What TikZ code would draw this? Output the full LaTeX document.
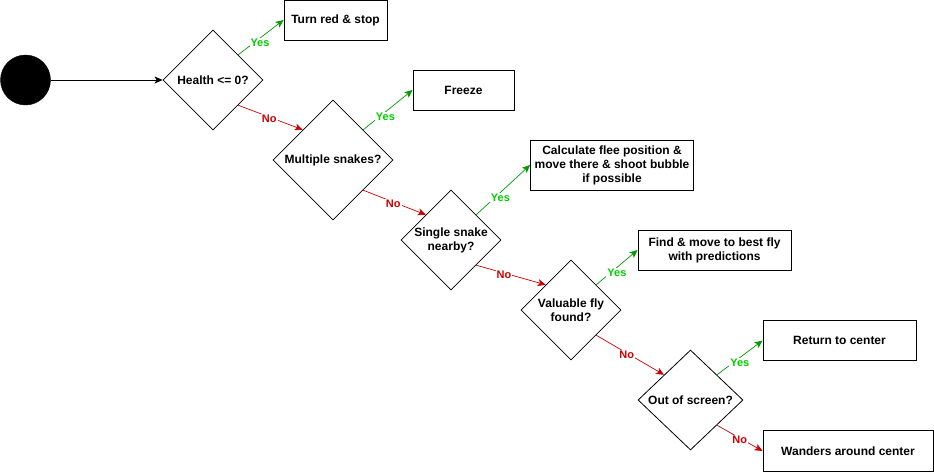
\documentclass[tikz,border=0pt]{standalone}
\usepackage{fontspec}
\setmainfont{Liberation Sans}
\usetikzlibrary{arrows.meta,shapes.geometric}
\definecolor{yesline}{RGB}{0, 153, 0}
\definecolor{yestext}{RGB}{0, 204, 0}
\definecolor{noline}{RGB}{204, 0, 0}
\definecolor{notext}{RGB}{204, 0, 0}

\tikzset{
  startdot/.style={circle, fill=black, draw=black, minimum size=50pt, inner sep=0pt},
  decision/.style={diamond, draw=black, line width=0.8pt, inner sep=0pt,
    align=center, font=\fontsize{12}{14}\selectfont\bfseries},
  action/.style={rectangle, draw=black, line width=0.8pt, inner sep=2pt,
    align=center, minimum height=40pt, font=\fontsize{12}{14}\selectfont\bfseries},
  flow/.style={-{Stealth[length=8pt,width=7pt,inset=2pt]}, line width=0.7pt},
  yesedge/.style={flow, yesline},
  noedge/.style={flow, noline},
  yeslabel/.style={fill=white, inner sep=1pt, text=yestext, yshift=-5pt,
    font=\fontsize{11}{12}\selectfont\bfseries},
  nolabel/.style={fill=white, inner sep=1pt, text=notext, yshift=-2pt,
    font=\fontsize{11}{12}\selectfont\bfseries},
}

\begin{document}
\begin{tikzpicture}[x=1pt, y=-1pt]
\useasboundingbox (0,0) rectangle (934,472);

% =====================================================================
% Decision chain, running down to the right
% =====================================================================
\node[startdot] (start) at (25.5,80) {};

\node[decision, minimum width=100pt, minimum height=100pt] (health) at (213,80) {Health {\char`<}= 0?};
\node[decision, minimum width=120pt, minimum height=120pt] (multi) at (333,160) {Multiple snakes?};
\node[decision, minimum width=100pt, minimum height=100pt] (single) at (451,240) {Single snake\\nearby?};
\node[decision, minimum width=100pt, minimum height=100pt] (valfly) at (571,310) {Valuable fly\\found?};
\node[decision, minimum width=105pt, minimum height=100pt] (offscr) at (690.5,400) {Out of screen?};

% =====================================================================
% Actions
% =====================================================================
\node[action, minimum width=103pt] (turnred) at (335.5,20) {Turn red \& stop};
\node[action, minimum width=101pt] (freeze) at (463.5,90) {Freeze};
\node[action, minimum width=163pt, minimum height=50pt] (flee) at (612,165)
  {Calculate flee position \&\\move there \& shoot bubble\\if possible};
\node[action, minimum width=153pt] (bestfly) at (714.5,250)
  {Find \& move to best fly\\with predictions};
\node[action, minimum width=153pt] (center) at (839.5,340.5) {Return to center};
\node[action, minimum width=170pt, minimum height=41pt] (wander) at (848,451) {Wanders around center};

% --- connectors ---
\draw[flow] (start) -- (health.west);

\draw[yesedge] (health.north east) -- node[yeslabel, pos=0.48] {Yes} (turnred.west);
\draw[noedge] (health.south east) -- node[nolabel, pos=0.48] {No} (multi.north west);

\draw[yesedge] (multi.north east) -- node[yeslabel, pos=0.45] {Yes} (freeze.west);
\draw[noedge] (multi.south east) -- node[nolabel, pos=0.48] {No} (single.north west);

\draw[yesedge] (single.north east) -- node[yeslabel, pos=0.45] {Yes} (flee.west);
\draw[noedge] (single.south east) -- node[nolabel, pos=0.4] {No} (valfly.north west);

\draw[yesedge] (valfly.north east) -- node[yeslabel, pos=0.5] {Yes} (bestfly.west);
\draw[noedge] (valfly.south east) -- node[nolabel, pos=0.45] {No} (offscr.north west);

\draw[yesedge] (offscr.north east) -- node[yeslabel, pos=0.5] {Yes} (center.west);
\draw[noedge] (offscr.south east) -- node[nolabel, pos=0.5] {No} (wander.west);

\end{tikzpicture}
\end{document}
